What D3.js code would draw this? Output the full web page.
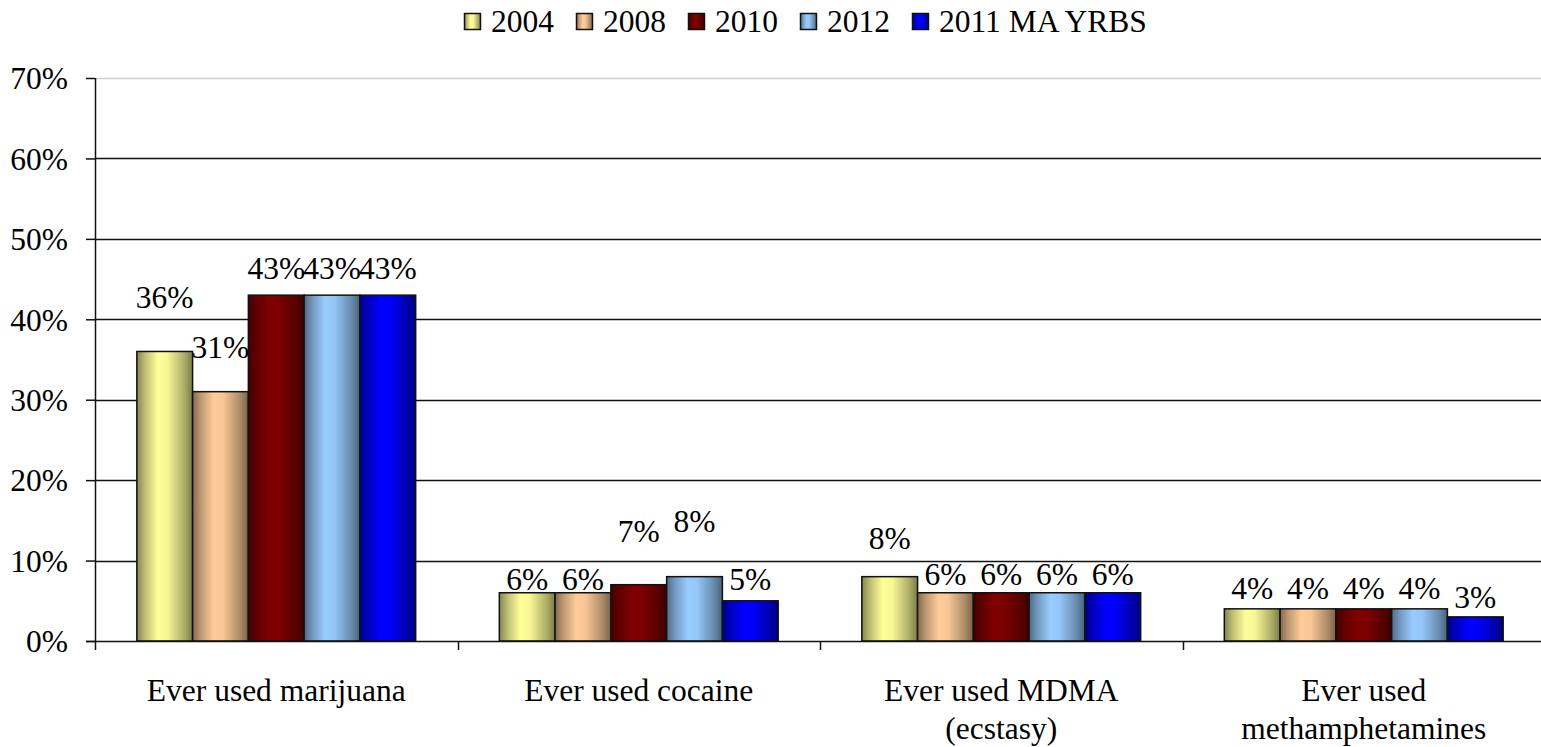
<!DOCTYPE html>
<html>
<head>
<meta charset="utf-8">
<script src="https://cdn.jsdelivr.net/npm/d3@7"></script>
<style>
  body { margin: 0; background: #fff; }
  text { font-family: "Liberation Serif", "Times New Roman", serif; fill: #000; }
</style>
</head>
<body>
<div id="chart"></div>
<script>
// data
var categories = [["Ever used marijuana"], ["Ever used cocaine"], ["Ever used MDMA", "(ecstasy)"], ["Ever used", "methamphetamines"]];
var series     = ["2004", "2008", "2010", "2012", "2011 MA YRBS"];
var colors     = ["#FFFF99", "#FFCC99", "#800000", "#99CCFF", "#0000FF"];
var v2004 = [0.36, 0.06, 0.08, 0.04];
var v2008 = [0.31, 0.06, 0.06, 0.04];
var v2010 = [0.43, 0.07, 0.06, 0.04];
var v2012 = [0.43, 0.08, 0.06, 0.04];
var vMA   = [0.43, 0.05, 0.06, 0.03];
var yTicks = [0, 0.1, 0.2, 0.3, 0.4, 0.5, 0.6, 0.7];

// label lift above bar top (layout only, Excel placed them unevenly)
var labelLift = [
  [54, 13, 38, 21],
  [44, 13, 18, 21],
  [27, 53, 18, 21],
  [27, 55, 18, 21],
  [27, 21, 18, 20]
];

var values = [v2004, v2008, v2010, v2012, vMA];

var W = 1541, H = 747;
var plotL = 95, plotR = 1545, plotT = 78, plotB = 641;
var fs = 31.5;

var svg = d3.select("#chart").append("svg")
    .attr("width", W)
    .attr("height", H);

var defs = svg.append("defs");
colors.forEach(function(c, i) {
  var g = defs.append("linearGradient")
      .attr("id", "grad" + i)
      .attr("x1", "0%").attr("x2", "100%").attr("y1", "0%").attr("y2", "0%");
  var base = d3.rgb(c);
  [[0, 0.52], [0.15, 0.75], [0.38, 1], [0.55, 0.97], [0.85, 0.68], [1, 0.48]].forEach(function(s) {
    var k = s[1];
    g.append("stop").attr("offset", s[0])
      .attr("stop-color", d3.rgb(base.r * k, base.g * k, base.b * k));
  });
});

var x0 = d3.scaleBand()
  .domain(d3.range(categories.length))
  .range([plotL, plotR])
  .padding(0);

var x1 = d3.scaleBand()
  .domain(d3.range(series.length))
  .range([0, x0.bandwidth()])
  .paddingInner(0)
  .paddingOuter(0.75);

var y = d3.scaleLinear()
  .domain([0, 0.7])
  .range([plotB, plotT]);

// gridlines
svg.append("g").selectAll("line")
  .data(yTicks.filter(function(t) { return t > 0; }))
  .enter().append("line")
    .attr("x1", plotL).attr("x2", W)
    .attr("y1", function(d) { return Math.round(y(d)) + 0.5; })
    .attr("y2", function(d) { return Math.round(y(d)) + 0.5; })
    .attr("stroke", function(d) { return d >= 0.7 ? "#d0d0d0" : "#111"; })
    .attr("stroke-width", 1.5);

// y axis
var yAxis = svg.append("g")
  .attr("transform", "translate(" + plotL + ",0)")
  .call(d3.axisLeft(y).tickValues(yTicks).tickSize(9).tickPadding(18)
    .tickFormat(d3.format(".0%")));
yAxis.select(".domain").attr("stroke", "#111").attr("stroke-width", 1.5)
  .attr("d", "M0.5," + plotT + "V" + (plotB + 0.5));
yAxis.selectAll(".tick line").attr("stroke", "#111").attr("stroke-width", 1.5);
yAxis.selectAll(".tick text")
  .style("font-family", "Liberation Serif, serif")
  .style("font-size", fs + "px")
  .attr("fill", "#000")
  .attr("dy", "0.34em");

// bars
var groups = svg.append("g").selectAll("g")
  .data(categories)
  .enter().append("g")
    .attr("transform", function(d, i) { return "translate(" + x0(i) + ",0)"; });

function rows(d, ci) {
  return series.map(function(s, si) { return { si: si, ci: ci, v: values[si][ci] }; });
}

groups.selectAll("rect")
  .data(rows)
  .enter().append("rect")
    .attr("x", function(d) { return x1(d.si); })
    .attr("y", function(d) { return y(d.v); })
    .attr("width", x1.bandwidth())
    .attr("height", function(d) { return y(0) - y(d.v); })
    .attr("fill", function(d) { return "url(#grad" + d.si + ")"; })
    .attr("stroke", "#111")
    .attr("stroke-width", 1.5);

groups.selectAll("text.lbl")
  .data(rows)
  .enter().append("text")
    .attr("class", "lbl")
    .attr("x", function(d) { return x1(d.si) + x1.bandwidth() / 2; })
    .attr("y", function(d) { return y(d.v) - labelLift[d.si][d.ci]; })
    .attr("dy", "0.34em")
    .attr("text-anchor", "middle")
    .style("font-size", fs + "px")
    .text(function(d) { return d3.format(".0%")(d.v); });

// x axis
svg.append("line")
  .attr("x1", plotL - 9).attr("x2", W)
  .attr("y1", plotB + 0.5).attr("y2", plotB + 0.5)
  .attr("stroke", "#111").attr("stroke-width", 1.5);

svg.append("g").selectAll("line")
  .data(d3.range(categories.length))
  .enter().append("line")
    .attr("x1", function(i) { return Math.round(x0(i)) + 0.5; })
    .attr("x2", function(i) { return Math.round(x0(i)) + 0.5; })
    .attr("y1", plotB).attr("y2", plotB + 9)
    .attr("stroke", "#111").attr("stroke-width", 1.5);

var catText = svg.append("g").selectAll("text")
  .data(categories)
  .enter().append("text")
    .attr("text-anchor", "middle")
    .attr("x", function(d, i) { return x0(i) + x0.bandwidth() / 2; })
    .attr("y", 701)
    .style("font-size", fs + "px");
catText.selectAll("tspan")
  .data(function(d) { return d; })
  .enter().append("tspan")
    .attr("x", function() { return d3.select(this.parentNode).attr("x"); })
    .attr("dy", function(d, i) { return i === 0 ? 0 : 38; })
    .text(function(d) { return d; });

// legend
var legend = svg.append("g").attr("transform", "translate(464,0)");
var lx = 0;
series.forEach(function(s, i) {
  var item = legend.append("g").attr("transform", "translate(" + lx + ",0)");
  item.append("rect")
    .attr("x", 0.5).attr("y", 13.5)
    .attr("width", 16).attr("height", 16)
    .attr("fill", "url(#grad" + i + ")")
    .attr("stroke", "#111").attr("stroke-width", 1.5);
  var t = item.append("text")
    .attr("x", 27).attr("y", 32)
    .style("font-size", fs + "px")
    .text(s);
  lx += 27 + t.node().getComputedTextLength() + 22;
});
</script>
</body>
</html>
